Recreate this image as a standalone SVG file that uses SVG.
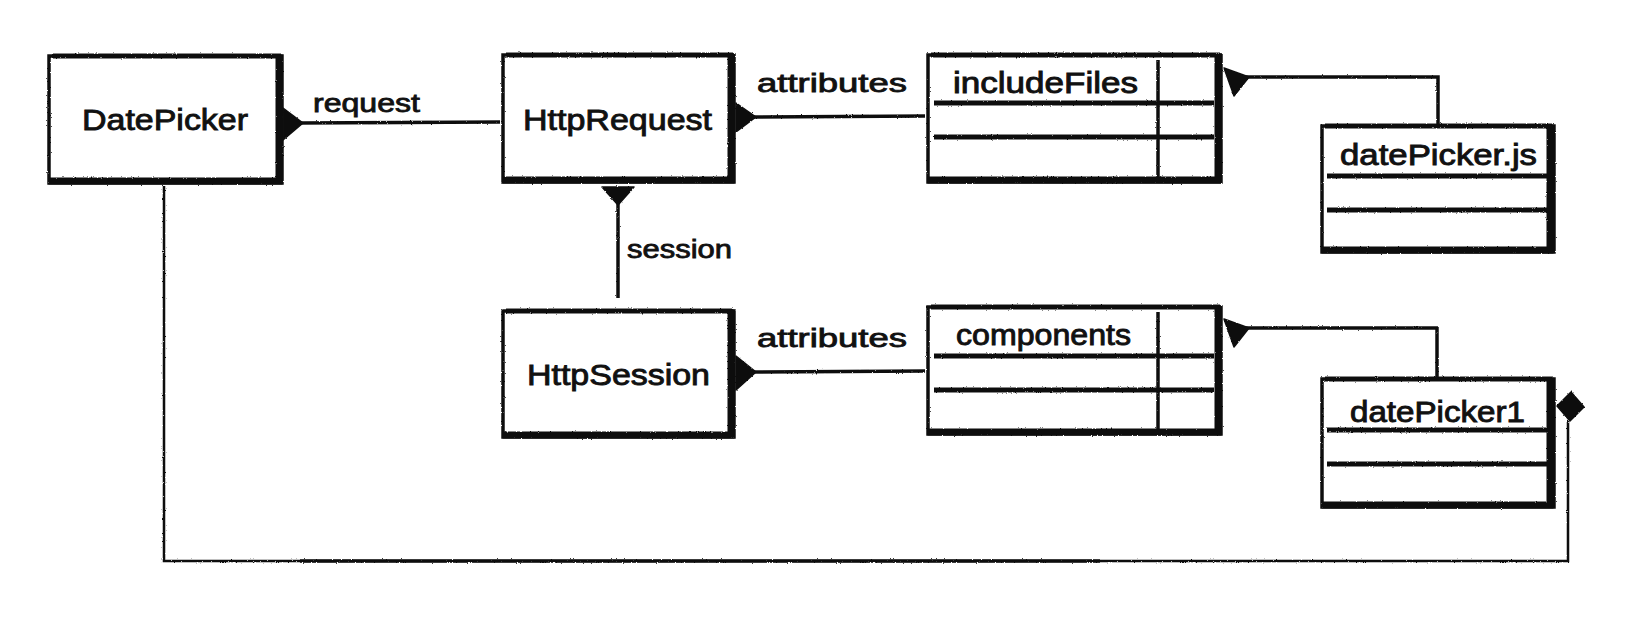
<svg xmlns="http://www.w3.org/2000/svg" width="1633" height="620" viewBox="0 0 1633 620">
  <defs>
    <filter id="rough" x="-5%" y="-5%" width="110%" height="110%">
      <feTurbulence type="fractalNoise" baseFrequency="0.8" numOctaves="2" seed="7" result="n"/>
      <feDisplacementMap in="SourceGraphic" in2="n" scale="2.2" xChannelSelector="R" yChannelSelector="G"/>
    </filter>
    <style>
      .box { fill: #ffffff; stroke: #111; stroke-width: 3.5; }
      .shade { fill: none; stroke: #0d0d0d; stroke-width: 7; stroke-linecap: square; }
      .topedge { fill: none; stroke: #111; stroke-width: 5; }
      .div { stroke: #111; stroke-width: 5; fill: none; }
      .vdiv { stroke: #111; stroke-width: 3.5; fill: none; }
      .name, .cname, .lbl { font-family: "Liberation Sans", Arial, sans-serif; fill: #111; stroke: #111; stroke-width: 0.9; text-anchor: start; }
      .name { font-size: 30px; }
      .cname { font-size: 29px; }
      .lbl { font-size: 25px; stroke-width: 0.8; }
      .line { fill: none; stroke: #111; stroke-width: 3.5; stroke-linejoin: miter; }
      .thin { fill: none; stroke: #111; stroke-width: 2.5; }
      .head { fill: #111; stroke: #111; stroke-width: 1.5; stroke-linejoin: round; }
    </style>
  </defs>
  <rect x="0" y="0" width="1633" height="620" fill="#ffffff"/>

  <g id="connectors" filter="url(#rough)">
    <!-- request -->
    <path class="line" d="M300,123 L500,122"/>
    <polygon class="head" points="283,108 283,140 303,123"/>
    <!-- attributes (request) -->
    <path class="line" d="M753,117 L925,116"/>
    <polygon class="head" points="736,103 736,132 756,117"/>
    <!-- session -->
    <polygon class="head" points="602,187 634,187 618,205"/>
    <path class="line" d="M618,204 L618,298"/>
    <!-- attributes (session) -->
    <path class="line" d="M753,372 L925,371"/>
    <polygon class="head" points="736,356 736,390 756,372"/>
    <!-- datePicker.js to includeFiles -->
    <path class="line" d="M1438,124 L1438,77 L1246,77"/>
    <polygon class="head" points="1224,68 1249,77 1234,96"/>
    <!-- datePicker1 to components -->
    <path class="line" d="M1437,377 L1437,328 L1246,328"/>
    <polygon class="head" points="1224,319 1249,328 1234,347"/>
    <!-- datePicker1 to DatePicker -->
    <polygon class="head" points="1557,406 1571,392 1584,407 1570,421"/>
    <path class="thin" d="M1568,421 L1568,561 L164,561 L164,186"/>
    <path class="line" d="M300,561 L1100,561"/>
  </g>

  <g id="labels">
    <text class="lbl" x="313" y="112" textLength="107" lengthAdjust="spacingAndGlyphs">request</text>
    <text class="lbl" x="757" y="92" textLength="150" lengthAdjust="spacingAndGlyphs">attributes</text>
    <text class="lbl" x="627" y="258" textLength="105" lengthAdjust="spacingAndGlyphs">session</text>
    <text class="lbl" x="757" y="347" textLength="150" lengthAdjust="spacingAndGlyphs">attributes</text>
  </g>

  <g id="DatePicker">
    <g filter="url(#rough)">
      <rect class="box" x="49" y="56" width="233" height="127"/>
      <path class="topedge" d="M52,56 L281,56"/>
      <path class="shade" d="M279,58 L279,181 L52,181"/>
    </g>
    <text class="name" x="82" y="130" textLength="166" lengthAdjust="spacingAndGlyphs">DatePicker</text>
  </g>

  <g id="HttpRequest">
    <g filter="url(#rough)">
      <rect class="box" x="503" y="55" width="231" height="127"/>
      <path class="topedge" d="M506,55 L733,55"/>
      <path class="shade" d="M731,57 L731,180 L506,180"/>
    </g>
    <text class="name" x="523" y="130" textLength="189" lengthAdjust="spacingAndGlyphs">HttpRequest</text>
  </g>

  <g id="HttpSession">
    <g filter="url(#rough)">
      <rect class="box" x="503" y="311" width="231" height="126"/>
      <path class="topedge" d="M506,311 L733,311"/>
      <path class="shade" d="M731,313 L731,435 L506,435"/>
    </g>
    <text class="name" x="527" y="385" textLength="183" lengthAdjust="spacingAndGlyphs">HttpSession</text>
  </g>

  <g id="includeFiles">
    <g filter="url(#rough)">
      <rect class="box" x="928" y="55" width="293" height="127"/>
      <path class="topedge" d="M931,55 L1220,55"/>
      <path class="shade" d="M1218,57 L1218,180 L931,180"/>
      <path class="div" d="M934,103 L1214,103"/>
      <path class="div" d="M934,137 L1214,137"/>
      <path class="vdiv" d="M1158,60 L1158,178"/>
    </g>
    <text class="cname" x="953" y="93" textLength="185" lengthAdjust="spacingAndGlyphs">includeFiles</text>
  </g>

  <g id="components">
    <g filter="url(#rough)">
      <rect class="box" x="928" y="307" width="293" height="127"/>
      <path class="topedge" d="M931,307 L1220,307"/>
      <path class="shade" d="M1218,309 L1218,432 L931,432"/>
      <path class="div" d="M934,356 L1214,356"/>
      <path class="div" d="M934,390 L1214,390"/>
      <path class="vdiv" d="M1158,312 L1158,430"/>
    </g>
    <text class="cname" x="956" y="345" textLength="175" lengthAdjust="spacingAndGlyphs">components</text>
  </g>

  <g id="datePicker.js">
    <g filter="url(#rough)">
      <rect class="box" x="1322" y="126" width="232" height="126"/>
      <path class="topedge" d="M1325,126 L1552,126"/>
      <path class="shade" d="M1550,128 L1550,250 L1325,250"/>
      <path class="div" d="M1327,176 L1547,176"/>
      <path class="div" d="M1327,210 L1547,210"/>
    </g>
    <text class="cname" x="1340" y="165" textLength="197" lengthAdjust="spacingAndGlyphs">datePicker.js</text>
  </g>

  <g id="datePicker1">
    <g filter="url(#rough)">
      <rect class="box" x="1322" y="379" width="232" height="128"/>
      <path class="topedge" d="M1325,379 L1552,379"/>
      <path class="shade" d="M1550,381 L1550,505 L1325,505"/>
      <path class="div" d="M1327,430 L1547,430"/>
      <path class="div" d="M1327,464 L1547,464"/>
    </g>
    <text class="cname" x="1350" y="422" textLength="175" lengthAdjust="spacingAndGlyphs">datePicker1</text>
  </g>
</svg>
